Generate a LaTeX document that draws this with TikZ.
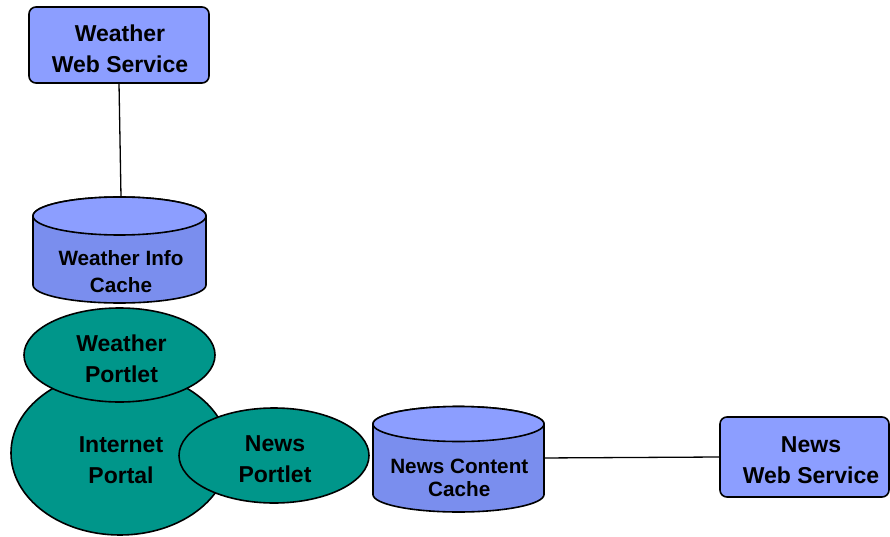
\documentclass[tikz,border=0pt]{standalone}
\usepackage{fontspec}
\setmainfont{Liberation Sans}
\usetikzlibrary{shapes.geometric}
\definecolor{svcblue}{RGB}{140,158,255}
\definecolor{cachebody}{RGB}{122,142,238}
\definecolor{portalteal}{RGB}{0,150,138}
\tikzset{
  every node/.style={inner sep=0pt, outer sep=0pt},
  svcbox/.style={draw=black, line width=1.6pt, fill=svcblue, rounded corners=7pt},
  portlet/.style={ellipse, draw=black, line width=1.6pt, fill=portalteal},
  bigtext/.style={align=center, font=\fontsize{23}{30.5}\selectfont\bfseries},
  cachetext/.style={align=center, font=\fontsize{20.7}{26.5}\selectfont\bfseries},
  outline/.style={draw=black, line width=1.6pt},
  link/.style={draw=black, line width=1.3pt}
}
\begin{document}
\begin{tikzpicture}[x=1pt, y=1pt]
\useasboundingbox (0,0) rectangle (890,536);

% service boxes
\node[svcbox, minimum width=180pt, minimum height=76pt] (wws) at (119,491) {};
\node[bigtext] (wws-label) at (120,487) {Weather\\Web Service};
\node[svcbox, minimum width=169pt, minimum height=80pt] (nws) at (804.5,79) {};
\node[bigtext] (nws-label) at (811,76) {News\\Web Service};

% attachment points on the cache cylinders
\coordinate (wcache-top) at (121,339);
\coordinate (ncache-east) at (540,78);

% connectors
\draw[link] (wws.south) -- (wcache-top);
\draw[link] (ncache-east) -- (nws.west);

% weather info cache (cylinder)
\path[outline, fill=cachebody] (33,320) -- (33,251) arc[start angle=180, end angle=360, x radius=86.5, y radius=18]
  -- (206,320) arc[start angle=0, end angle=180, x radius=86.5, y radius=19] -- cycle;
\path[outline, fill=svcblue] (119.5,320) ellipse[x radius=86.5, y radius=19];
\node[cachetext] (wcache) at (121,264.5) {Weather Info\\Cache};

% portal and portlets
\node[portlet, minimum width=218pt, minimum height=164pt] (portal) at (120,83) {};
\node[bigtext] (portal-label) at (121,76) {Internet\\Portal};
\node[portlet, minimum width=191pt, minimum height=94pt] (wportlet) at (119.5,181) {};
\node[bigtext] (wportlet-label) at (121.5,177) {Weather\\Portlet};
\node[portlet, minimum width=190pt, minimum height=95pt] (nportlet) at (274,80.5) {};
\node[bigtext] (nportlet-label) at (275,77) {News\\Portlet};

% news content cache (cylinder)
\path[outline, fill=cachebody] (373,112) -- (373,41.5) arc[start angle=180, end angle=360, x radius=85.5, y radius=17.5]
  -- (544,112) arc[start angle=0, end angle=180, x radius=85.5, y radius=17.5] -- cycle;
\path[outline, fill=svcblue] (458.5,112) ellipse[x radius=85.5, y radius=17.5];
\node[cachetext, font=\fontsize{20.7}{23.5}\selectfont\bfseries] (ncache) at (459.3,58) {News Content\\Cache};
\end{tikzpicture}
\end{document}
